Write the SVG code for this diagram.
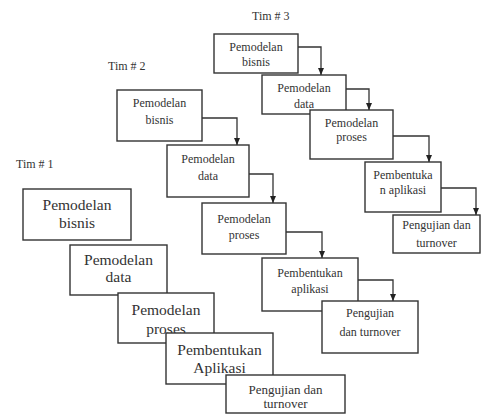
<svg xmlns="http://www.w3.org/2000/svg" width="484" height="414" viewBox="0 0 484 414">
<style>
  .box { fill: #fff; stroke: #333; stroke-width: 1.4; }
  .t { font-family: 'Liberation Serif', serif; fill: #333; text-anchor: middle; }
  .s { font-size: 12px; }
  .l { font-size: 15.5px; }
  .m { font-size: 13px; }
  .lbl { font-family: 'Liberation Serif', serif; fill: #333; font-size: 12px; }
  .c { fill: none; stroke: #333; stroke-width: 1.3; marker-end: url(#ah); }
</style>
<defs>
  <marker id="ah" markerUnits="userSpaceOnUse" markerWidth="7" markerHeight="7" viewBox="0 0 7 7" refX="7" refY="3.5" orient="auto">
    <path d="M0,0.5 L7,3.5 L0,6.5 Z" fill="#222"/>
  </marker>
</defs>
<rect width="484" height="414" fill="#fff"/>

<!-- Labels -->
<text class="lbl" x="252" y="20">Tim # 3</text>
<text class="lbl" x="108" y="70">Tim # 2</text>
<text class="lbl" x="16" y="168">Tim # 1</text>

<!-- Tim 3 -->
<g id="t3-bisnis"><rect class="box" x="214" y="34" width="84" height="39"/>
  <text class="t s" x="256" y="51">Pemodelan</text><text class="t s" x="256" y="66">bisnis</text></g>
<g id="t3-data"><rect class="box" x="262" y="75" width="84" height="39"/>
  <text class="t s" x="304" y="92">Pemodelan</text><text class="t s" x="304" y="108">data</text></g>
<g id="t3-proses"><rect class="box" x="310" y="110" width="83" height="49"/>
  <text class="t s" x="351.5" y="127">Pemodelan</text><text class="t s" x="351.5" y="141">proses</text></g>
<g id="t3-aplikasi"><rect class="box" x="365" y="162" width="76" height="50"/>
  <text class="t s" x="403" y="179">Pembentuka</text><text class="t s" x="403" y="194">n aplikasi</text></g>
<g id="t3-uji"><rect class="box" x="393" y="215" width="87" height="38"/>
  <text class="t s" x="436.5" y="229">Pengujian dan</text><text class="t s" x="436.5" y="247">turnover</text></g>

<!-- Tim 2 -->
<g id="t2-bisnis"><rect class="box" x="117" y="90" width="85" height="51"/>
  <text class="t s" x="159.5" y="107">Pemodelan</text><text class="t s" x="159.5" y="124">bisnis</text></g>
<g id="t2-data"><rect class="box" x="167" y="145" width="82" height="52"/>
  <text class="t s" x="208" y="163">Pemodelan</text><text class="t s" x="208" y="180">data</text></g>
<g id="t2-proses"><rect class="box" x="202" y="203" width="84" height="51"/>
  <text class="t s" x="244" y="223">Pemodelan</text><text class="t s" x="244" y="239">proses</text></g>
<g id="t2-aplikasi"><rect class="box" x="262" y="258" width="96" height="53"/>
  <text class="t s" x="310" y="277">Pembentukan</text><text class="t s" x="310" y="293">aplikasi</text></g>
<g id="t2-uji"><rect class="box" x="322" y="301" width="96" height="52"/>
  <text class="t s" x="370" y="317">Pengujian</text><text class="t s" x="370" y="336">dan turnover</text></g>

<!-- Tim 1 -->
<g id="t1-bisnis"><rect class="box" x="23" y="189" width="108" height="51"/>
  <text class="t l" x="77" y="210">Pemodelan</text><text class="t l" x="77" y="228">bisnis</text></g>
<g id="t1-data"><rect class="box" x="70" y="245" width="97" height="50"/>
  <text class="t l" x="118.5" y="265">Pemodelan</text><text class="t l" x="118.5" y="282">data</text></g>
<g id="t1-proses"><rect class="box" x="118" y="293" width="96" height="50"/>
  <text class="t l" x="166" y="315">Pemodelan</text><text class="t l" x="166" y="334">proses</text></g>
<g id="t1-aplikasi"><rect class="box" x="166" y="333" width="107" height="51"/>
  <text class="t l" x="219.5" y="355">Pembentukan</text><text class="t l" x="219.5" y="373">Aplikasi</text></g>
<g id="t1-uji"><rect class="box" x="226" y="375" width="119" height="38"/>
  <text class="t m" x="285.5" y="394">Pengujian dan</text><text class="t m" x="285.5" y="408">turnover</text></g>

<!-- Connectors -->
<g id="connectors">
  <path class="c" d="M298,47 H321 V75"/>
  <path class="c" d="M346,89 H369 V110"/>
  <path class="c" d="M393,136 H429 V162"/>
  <path class="c" d="M441,188 H476 V215"/>
  <path class="c" d="M202,118 H237 V145"/>
  <path class="c" d="M249,174 H273 V203"/>
  <path class="c" d="M286,232 H322 V258"/>
  <path class="c" d="M358,280 H393 V301"/>
</g>
</svg>
